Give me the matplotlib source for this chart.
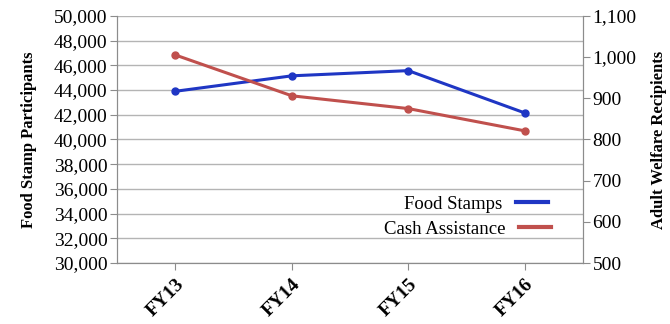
import matplotlib.pyplot as plt
from matplotlib.ticker import FuncFormatter, MultipleLocator

plt.rcParams['font.family'] = 'serif'
plt.rcParams['font.serif'] = ['Liberation Serif', 'DejaVu Serif']

years = ["FY13", "FY14", "FY15", "FY16"]
food_stamps = [43900, 45150, 45570, 42150]
cash_assistance = [1005, 906, 875, 821]

grey = "#8c8c8c"
blue = "#1f36c4"
red = "#c0504d"

fig = plt.figure(figsize=(6.7, 3.24), dpi=100)
ax = fig.add_axes([0.175, 0.188, 0.695, 0.763])
ax2 = ax.twinx()

x = range(len(years))
l1, = ax.plot(x, food_stamps, color=blue, lw=2.2, marker="o", ms=5, zorder=3)
l2, = ax2.plot(x, cash_assistance, color=red, lw=2.2, marker="o", ms=5, zorder=3)

ax.set_xlim(-0.5, 3.5)
ax.set_ylim(30000, 50000)
ax.yaxis.set_major_locator(MultipleLocator(2000))
ax.yaxis.set_major_formatter(FuncFormatter(lambda v, p: f"{v:,.0f}"))
ax2.set_ylim(500, 1100)
ax2.yaxis.set_major_locator(MultipleLocator(100))
ax2.yaxis.set_major_formatter(FuncFormatter(lambda v, p: f"{v:,.0f}"))

ax.grid(axis="y", color="#b4b4b4", lw=1)
ax.set_axisbelow(True)

ax.set_xticks(list(x))
ax.set_xticklabels(years, rotation=45, ha="right", rotation_mode="anchor",
                   fontsize=14, fontweight="bold")
ax.tick_params(axis="x", length=5, color=grey, pad=4)
ax.tick_params(axis="y", labelsize=14, length=5, color=grey, pad=2)
ax2.tick_params(axis="y", labelsize=14, length=5, color=grey, pad=2)

for a in (ax, ax2):
    a.spines["top"].set_visible(False)
    for s in ("left", "right", "bottom"):
        a.spines[s].set_color(grey)

ax.set_ylabel("Food Stamp Participants", fontsize=12, fontweight="bold", labelpad=12)
ax2.set_ylabel("Adult Welfare Recipients", fontsize=12, fontweight="bold", labelpad=10)

# one legend per series, each anchored by the right end of its line
entries = [(l1, "Food Stamps", (548 / 670, 1 - 204 / 324)),
           (l2, "Cash Assistance", (551 / 670, 1 - 229 / 324))]
for line, name, anchor in entries:
    leg = fig.legend([line], [name], markerfirst=False, frameon=False,
                     loc="center right", bbox_to_anchor=anchor,
                     borderpad=0, borderaxespad=0, fontsize=13.5,
                     handlelength=1.7, handletextpad=0.75)
    for h in leg.legend_handles:
        h.set_marker("")
        h.set_linewidth(3)

fig.savefig("out.png", dpi=100)
